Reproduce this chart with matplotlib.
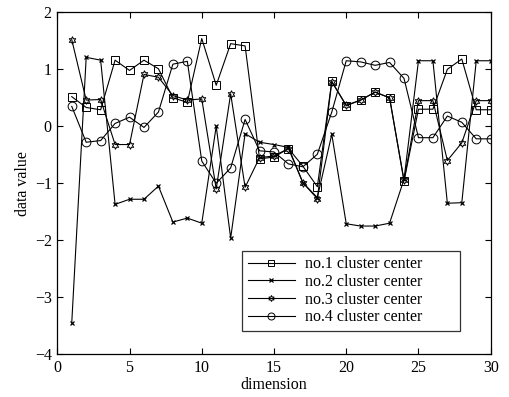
import matplotlib
matplotlib.use("Agg")
import matplotlib.pyplot as plt
import numpy as np

plt.rcParams['font.family'] = ['Liberation Serif', 'DejaVu Serif']

dims = list(range(1, 31))
center1 = [0.52, 0.33, 0.29, 1.16, 0.98, 1.16, 1.01, 0.50, 0.42, 1.54,
           0.72, 1.45, 1.41, -0.57, -0.54, -0.39, -0.70, -1.06, 0.79, 0.36,
           0.46, 0.60, 0.50, -0.96, 0.30, 0.30, 1.00, 1.18, 0.29, 0.29]
center2 = [-3.45, 1.21, 1.16, -1.37, -1.28, -1.28, -1.05, -1.68, -1.61, -1.70,
           0.00, -1.96, -0.13, -0.28, -0.32, -0.37, -0.99, -1.25, -0.14, -1.71,
           -1.75, -1.75, -1.70, -0.93, 1.15, 1.15, -1.35, -1.34, 1.15, 1.15]
center3 = [1.52, 0.46, 0.47, -0.32, -0.32, 0.91, 0.86, 0.54, 0.46, 0.48,
           -1.10, 0.57, -1.07, -0.55, -0.52, -0.39, -0.99, -1.27, 0.78, 0.37,
           0.46, 0.60, 0.50, -0.95, 0.45, 0.45, -0.60, -0.29, 0.45, 0.45]
center4 = [0.35, -0.28, -0.25, 0.05, 0.16, -0.02, 0.25, 1.09, 1.14, -0.61,
           -1.00, -0.73, 0.12, -0.43, -0.45, -0.66, -0.71, -0.49, 0.25, 1.15,
           1.13, 1.07, 1.12, 0.84, -0.20, -0.20, 0.18, 0.07, -0.22, -0.22]
labels = ['no.1 cluster center', 'no.2 cluster center',
          'no.3 cluster center', 'no.4 cluster center']

fig = plt.figure(figsize=(5.10, 3.97), dpi=100)
ax = fig.add_axes([57.3/510, 1-354.3/397, (490.7-57.3)/510, (354.3-12.3)/397])

lw = 0.8
ax.plot(dims, center1, color='black', lw=lw, marker='s', ms=5.3,
        mfc='none', mec='black', mew=0.7, label=labels[0])
ax.plot(dims, center2, color='black', lw=lw, marker='x', ms=3.2,
        mec='black', mew=0.9, label=labels[1])
ax.plot(dims, center3, color='black', lw=lw, marker=(6, 1, 0), ms=5.5,
        mfc='none', mec='black', mew=0.7, label=labels[2])
ax.plot(dims, center4, color='black', lw=lw, marker='o', ms=6.3,
        mfc='none', mec='black', mew=0.7, label=labels[3])

ax.set_xlim(0, 30)
ax.set_ylim(-4, 2)
ax.set_xticks([0, 5, 10, 15, 20, 25, 30])
ax.set_yticks([-4, -3, -2, -1, 0, 1, 2])
ax.tick_params(direction='in', top=True, right=True, labelsize=11.5,
               length=4, width=0.8, pad=4)
for s in ax.spines.values():
    s.set_linewidth(0.9)
ax.set_xlabel('dimension', fontsize=11.5, labelpad=1)
ax.set_ylabel('data value', fontsize=11.5, labelpad=3)

leg = ax.legend(loc='lower left', bbox_to_anchor=(0.426, 0.069, 0.503, 0.228),
                mode='expand', fontsize=11.5, frameon=True, fancybox=False,
                edgecolor='black', handlelength=3.0, handletextpad=0.6,
                borderpad=0.35, labelspacing=0.1, borderaxespad=0,
                markerscale=0.8)
leg.get_frame().set_linewidth(0.9)

fig.savefig('out.png', dpi=100)
